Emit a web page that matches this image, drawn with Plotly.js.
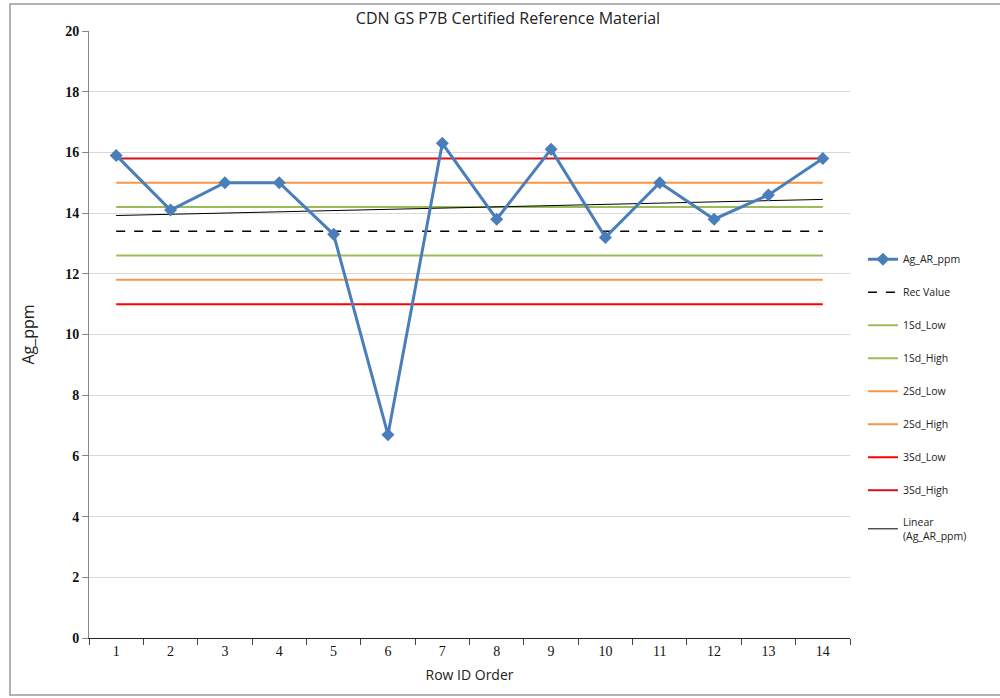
<!DOCTYPE html>
<html>
<head>
<meta charset="utf-8">
<script src="https://cdn.plot.ly/plotly-3.0.1.min.js"></script>
<style>html,body{margin:0;padding:0;background:#fff;}#chart{width:1000px;height:698px;}</style>
</head>
<body>
<div id="chart"></div>
<script>
// Data
const rowIds = ["1","2","3","4","5","6","7","8","9","10","11","12","13","14"];
const agValues = [15.9, 14.1, 15.0, 15.0, 13.3, 6.7, 16.3, 13.8, 16.1, 13.2, 15.0, 13.8, 14.6, 15.8];
const recValue = 13.4;
const sd1Low = 12.6, sd1High = 14.2;
const sd2Low = 11.8, sd2High = 15.0;
const sd3Low = 11.0, sd3High = 15.8;
const yTickVals = [0, 2, 4, 6, 8, 10, 12, 14, 16, 18, 20];

// linear trend (least squares, like Excel trendline)
const n = agValues.length;
const xs = agValues.map((_, i) => i + 1);
const mx = xs.reduce((a, b) => a + b, 0) / n;
const my = agValues.reduce((a, b) => a + b, 0) / n;
let sxy = 0, sxx = 0;
for (let i = 0; i < n; i++) { sxy += (xs[i] - mx) * (agValues[i] - my); sxx += (xs[i] - mx) ** 2; }
const slope = sxy / sxx, intercept = my - slope * mx;
const trend = xs.map(x => intercept + slope * x);

const flat = v => rowIds.map(() => v);

function refLine(name, val, color, rank, dash) {
  return {x: rowIds, y: flat(val), type: 'scatter', mode: 'lines', name: name,
    line: {color: color, width: 2, dash: dash || 'solid'}, legendrank: rank,
    legendgroup: name, hoverinfo: 'skip'};
}

const traces = [
  refLine('Rec Value', recValue, '#000000', 2, 'dash'),
  refLine('1Sd_Low', sd1Low, '#9BBB59', 3),
  refLine('1Sd_High', sd1High, '#9BBB59', 4),
  refLine('2Sd_Low', sd2Low, '#F79646', 5),
  refLine('2Sd_High', sd2High, '#F79646', 6),
  refLine('3Sd_Low', sd3Low, '#FF0000', 7),
  refLine('3Sd_High', sd3High, '#D4101A', 8),
  {x: rowIds, y: trend, type: 'scatter', mode: 'lines', name: 'Linear<br>(Ag_AR_ppm)',
    line: {color: '#000000', width: 1}, legendrank: 9, legendgroup: 'lin'},
  {x: rowIds, y: agValues, type: 'scatter', mode: 'lines+markers', name: 'Ag_AR_ppm',
    line: {color: '#4A7EBB', width: 3}, marker: {symbol: 'diamond', size: 10, color: '#4A7EBB'},
    legendrank: 1, legendgroup: 'ag'}
];
traces[0].line.width = 1.5;

const layout = {
  width: 1000, height: 698,
  margin: {l: 89, r: 150, t: 31, b: 60},
  paper_bgcolor: '#ffffff', plot_bgcolor: '#ffffff',
  showlegend: true,
  title: {text: 'CDN GS P7B Certified Reference Material', font: {family: 'Open Sans, sans-serif', size: 16, color: '#222'},
    x: 0.508, xref: 'container', xanchor: 'center', y: 0.974, yref: 'container', yanchor: 'middle'},
  xaxis: {type: 'category', range: [-0.5, 13.5], tickson: 'boundaries', ticks: 'outside', ticklen: 6, tickcolor: '#444',
    showline: true, linecolor: '#222', linewidth: 1, showgrid: false, zeroline: false,
    tickfont: {family: 'Liberation Serif, serif', size: 14, color: '#111'},
    title: {text: 'Row ID Order', font: {family: 'Open Sans, sans-serif', size: 14, color: '#222'}, standoff: 12}},
  yaxis: {range: [0, 20], tickvals: yTickVals, ticks: 'outside', ticklen: 6, tickcolor: '#888',
    showline: true, linecolor: '#888', linewidth: 1, showgrid: true, gridcolor: '#d9d9d9', zeroline: false,
    tickfont: {family: 'Liberation Serif, serif', size: 14, color: '#111', weight: 'bold'},
    title: {text: 'Ag_ppm', font: {family: 'Open Sans, sans-serif', size: 16, color: '#222'}, standoff: 26}},
  legend: {x: 1.017, xanchor: 'left', y: 0.648, yanchor: 'top', tracegroupgap: 14,
    font: {family: 'Open Sans, sans-serif', size: 10.5, color: '#222'}, bgcolor: 'rgba(0,0,0,0)'},
  shapes: [
    {type: 'rect', xref: 'paper', yref: 'paper', x0: -0.1038, x1: 1.3, y0: -0.094, y1: 1.0445,
      line: {color: '#9a9a9a', width: 1.5}, fillcolor: 'rgba(0,0,0,0)', layer: 'below'}
  ]
};

Plotly.newPlot('chart', traces, layout, {displayModeBar: false, staticPlot: true});
</script>
</body>
</html>
